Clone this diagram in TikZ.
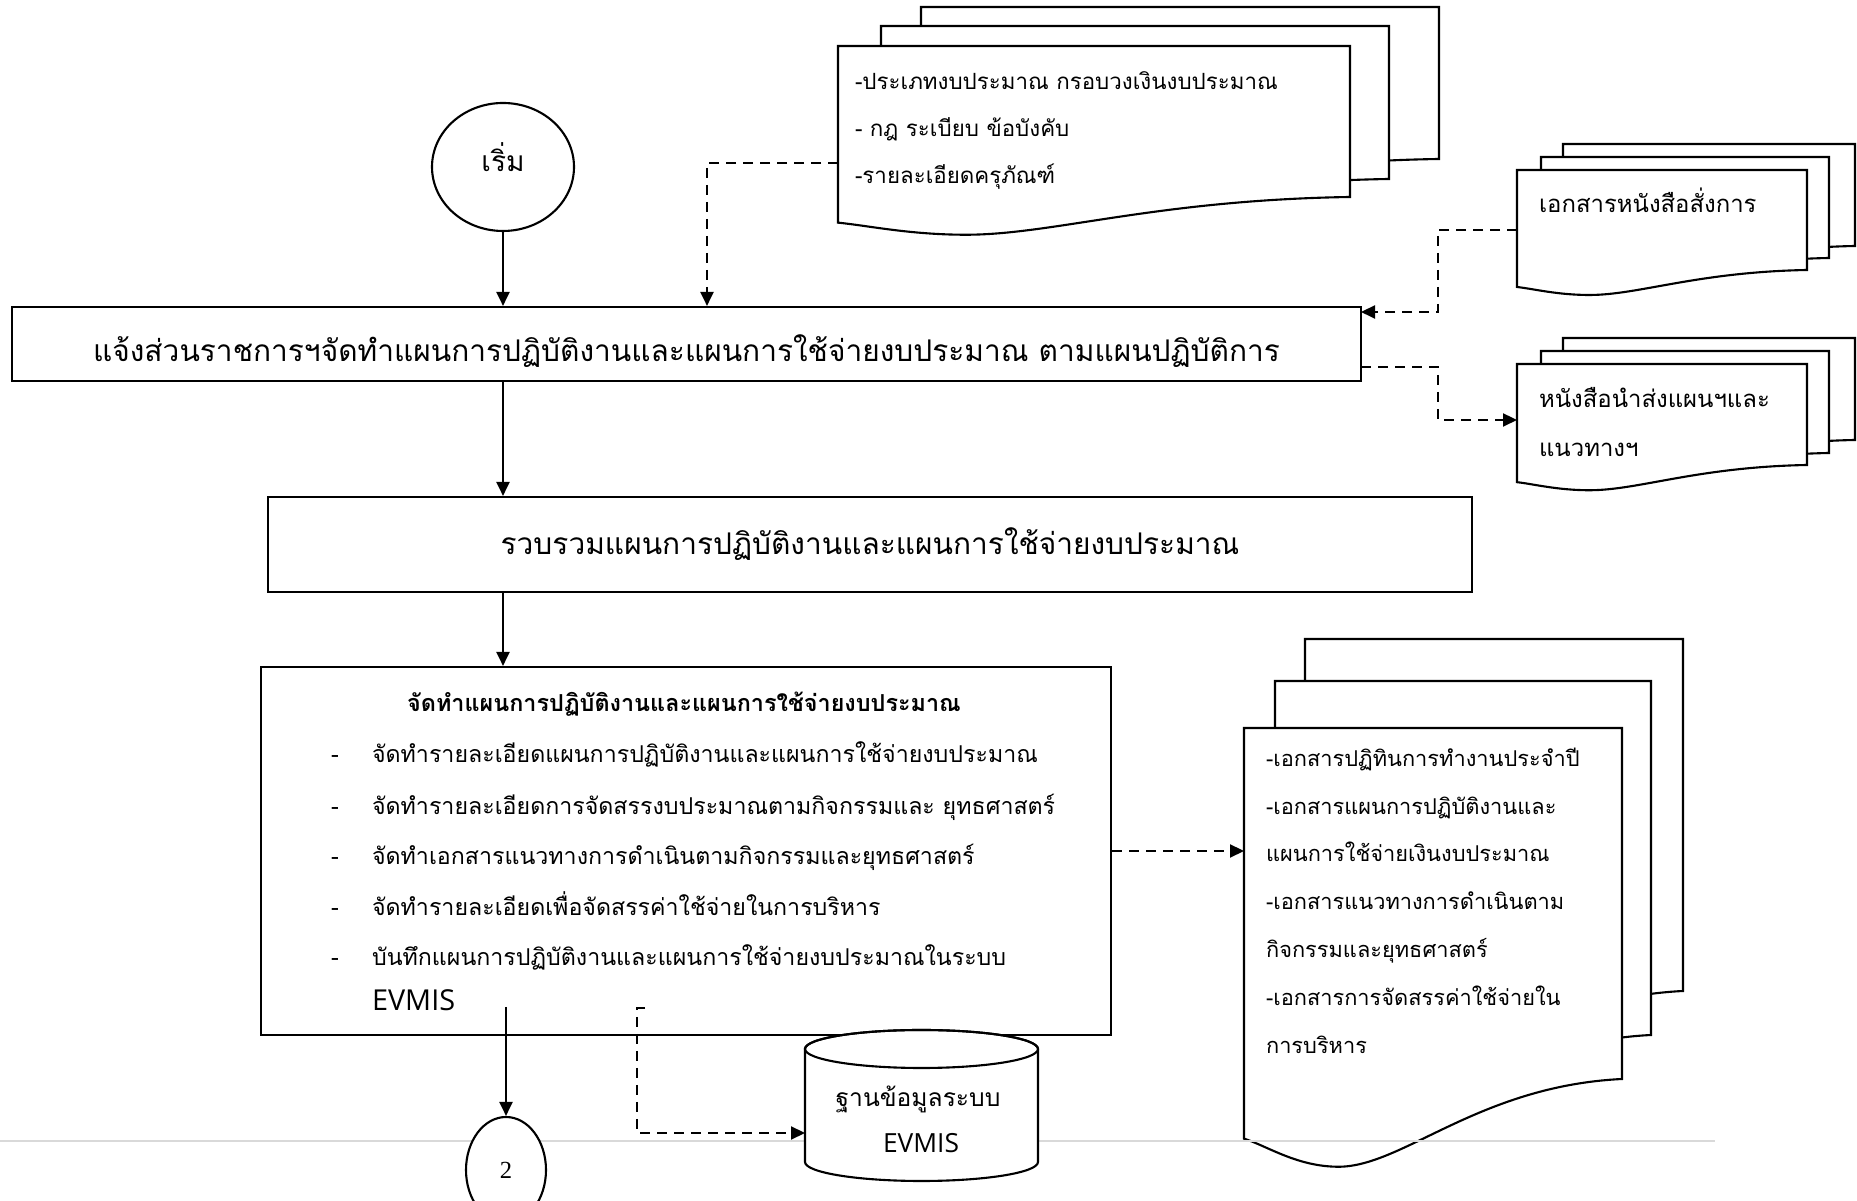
\documentclass[tikz,border=0pt]{standalone}
\usepackage{fontspec}
\setmainfont{Liberation Serif}
\newfontfamily\thai[Script=Thai]{Loma}
\newfontfamily\latin{Open Sans}
\usetikzlibrary{arrows.meta,shapes.geometric}

% one sheet of a stacked document: left, top, right, bottom right
\newcommand{\docpage}[4]{%
  \pgfmathsetmacro{\pgw}{#3-#1}%
  \pgfmathsetmacro{\pgh}{#4-#2}%
  \filldraw[fill=white] (#1,#2) -- (#3,#2) -- (#3,#4)
    .. controls ({#1+0.62*\pgw},{#4+0.02*\pgh}) and ({#1+0.42*\pgw},{#4+0.25*\pgh}) .. ({#1+0.25*\pgw},{#4+0.25*\pgh})
    .. controls ({#1+0.14*\pgw},{#4+0.25*\pgh}) and ({#1+0.06*\pgw},{#4+0.19*\pgh}) .. (#1,{#4+0.17*\pgh}) -- cycle;}

\begin{document}
\begin{tikzpicture}[x=0.1mm,y=-0.1mm,line width=0.6pt,
    >={Triangle[length=1.4mm,width=1.3mm]},
    procbox/.style={draw,fill=white,inner sep=0pt,font=\thai\fontsize{8.5}{10}\selectfont},
    flow/.style={->},
    link/.style={->,dash pattern=on 1mm off 0.7mm},
    doctext/.style={anchor=base west,inner sep=0pt,font=\thai\fontsize{#1}{8}\selectfont},
    doctext/.default=6.8,
    listtext/.style={anchor=base west,inner sep=0pt,font=\thai\fontsize{6.6}{8}\selectfont}]
    \useasboundingbox (0,0) rectangle (1857,1201);

    % start
    \node[draw,ellipse,minimum width=14.2mm,minimum height=12.8mm,inner sep=0pt] (start) at (503,167) {};
    \node[font=\thai\fontsize{8}{9}\selectfont] (startlbl) at (503,157) {เริ่ม};

    % documents top right
    \docpage{921}{7}{1439}{159}
    \docpage{881}{26}{1389}{179}
    \docpage{838}{46}{1350}{197}
    \node[doctext=6.35] (rules1) at (854,90) {-ประเภทงบประมาณ กรอบวงเงินงบประมาณ};
    \node[doctext=6.35] (rules2) at (854,137) {- กฎ ระเบียบ ข้อบังคับ};
    \node[doctext=6.35] (rules3) at (854,184) {-รายละเอียดครุภัณฑ์};
    \coordinate (rulesW) at (838,163);

    \docpage{1563}{144}{1855}{246}
    \docpage{1541}{157}{1829}{258}
    \docpage{1517}{170}{1807}{270}
    \node[doctext] (order) at (1538,213) {เอกสารหนังสือสั่งการ};
    \coordinate (orderW) at (1517,230);

    \docpage{1563}{338}{1855}{440}
    \docpage{1541}{351}{1829}{453}
    \docpage{1517}{364}{1807}{465}
    \node[doctext] (letter1) at (1538,408) {หนังสือนำส่งแผนฯและ};
    \node[doctext] (letter2) at (1538,457) {แนวทางฯ};
    \coordinate (letterW) at (1517,420);

    % process boxes
    \node[procbox,minimum width=134.9mm,minimum height=7.4mm,text height=3.6mm,text depth=0.1mm] (notify) at (686.5,344)
        {แจ้งส่วนราชการฯจัดทำแผนการปฏิบัติงานและแผนการใช้จ่ายงบประมาณ ตามแผนปฏิบัติการ};
    \node[procbox,minimum width=120.4mm,minimum height=9.5mm] (collect) at (870,544.5)
        {รวบรวมแผนการปฏิบัติงานและแผนการใช้จ่ายงบประมาณ};
    \node[procbox,minimum width=85mm,minimum height=36.8mm] (plan) at (686,851) {};

    \node[listtext,anchor=base,font=\thai\bfseries\fontsize{6.65}{8}\selectfont] (plantitle) at (684,712)
        {จัดทำแผนการปฏิบัติงานและแผนการใช้จ่ายงบประมาณ};
    \node[listtext] (dash1) at (330,763) {-};
    \node[listtext] (dash2) at (330,815) {-};
    \node[listtext] (dash3) at (330,865) {-};
    \node[listtext] (dash4) at (330,916) {-};
    \node[listtext] (dash5) at (330,966) {-};
    \node[listtext] (item1) at (371,763) {จัดทำรายละเอียดแผนการปฏิบัติงานและแผนการใช้จ่ายงบประมาณ};
    \node[listtext] (item2) at (371,815) {จัดทำรายละเอียดการจัดสรรงบประมาณตามกิจกรรมและ ยุทธศาสตร์};
    \node[listtext] (item3) at (371,865) {จัดทำเอกสารแนวทางการดำเนินตามกิจกรรมและยุทธศาสตร์};
    \node[listtext] (item4) at (371,916) {จัดทำรายละเอียดเพื่อจัดสรรค่าใช้จ่ายในการบริหาร};
    \node[listtext] (item5) at (371,966) {บันทึกแผนการปฏิบัติงานและแผนการใช้จ่ายงบประมาณในระบบ};
    \node[listtext,font=\latin\fontsize{8.2}{9}\selectfont] (item5b) at (371,1011) {EVMIS};

    % output documents
    \docpage{1305}{639}{1683}{991}
    \docpage{1275}{681}{1651}{1035}
    \docpage{1244}{728}{1622}{1079}
    \node[doctext=6.2] (out1) at (1265,767) {-เอกสารปฏิทินการทำงานประจำปี};
    \node[doctext=6.2] (out2) at (1265,815) {-เอกสารแผนการปฏิบัติงานและ};
    \node[doctext=6.2] (out3) at (1265,862) {แผนการใช้จ่ายเงินงบประมาณ};
    \node[doctext=6.2] (out4) at (1265,910) {-เอกสารแนวทางการดำเนินตาม};
    \node[doctext=6.2] (out5) at (1265,958) {กิจกรรมและยุทธศาสตร์};
    \node[doctext=6.2] (out6) at (1265,1006) {-เอกสารการจัดสรรค่าใช้จ่ายใน};
    \node[doctext=6.2] (out7) at (1265,1054) {การบริหาร};
    \coordinate (outW) at (1244,851);

    \draw[gray!30,line width=0.4pt] (0,1141) -- (1715,1141);

    % database
    \filldraw[fill=white] (805,1049) -- (805,1162)
        arc[start angle=180,end angle=360,x radius=11.65mm,y radius=1.9mm] -- (1038,1049)
        arc[start angle=0,end angle=180,x radius=11.65mm,y radius=1.9mm] -- cycle;
    \draw (921.5,1049) ellipse[x radius=11.65mm,y radius=1.9mm];
    \node[font=\thai\fontsize{7}{8}\selectfont] (db1) at (918,1099) {ฐานข้อมูลระบบ};
    \node[font=\latin\fontsize{7.5}{8}\selectfont] (db2) at (921,1143) {EVMIS};
    \coordinate (dbW) at (805,1133);

    % connector
    \node[draw,fill=white,ellipse,minimum width=8mm,minimum height=10.6mm,inner sep=0pt] (next) at (506,1170)
        {\fontsize{7}{8}\selectfont 2};

    % flow lines
    \coordinate (planOut) at (506,1007);
    \coordinate (rulesIn) at (707,0);
    \coordinate (orderBend) at (1438,230);
    \coordinate (orderIn) at (1361,312);
    \coordinate (letterOut) at (1361,367);
    \coordinate (letterBend) at (1438,367);
    \coordinate (dbOut) at (645,1008);
    \coordinate (dbBend) at (637,1008);

    \draw[flow] (start.south) -- (start.south |- notify.north);
    \draw[flow] (notify.south -| start.south) -- (collect.north -| start.south);
    \draw[flow] (collect.south -| start.south) -- (plan.north -| start.south);
    \draw[flow] (planOut) -- (next.north);

    \draw[link] (rulesW) -| (rulesIn |- notify.north);
    \draw[link] (orderW) -- (orderBend) |- (orderIn);
    \draw[link] (letterOut) -- (letterBend) |- (letterW);
    \draw[link] (plan.east) -- (outW);
    \draw[link] (dbOut) -- (dbBend) |- (dbW);
\end{tikzpicture}
\end{document}
